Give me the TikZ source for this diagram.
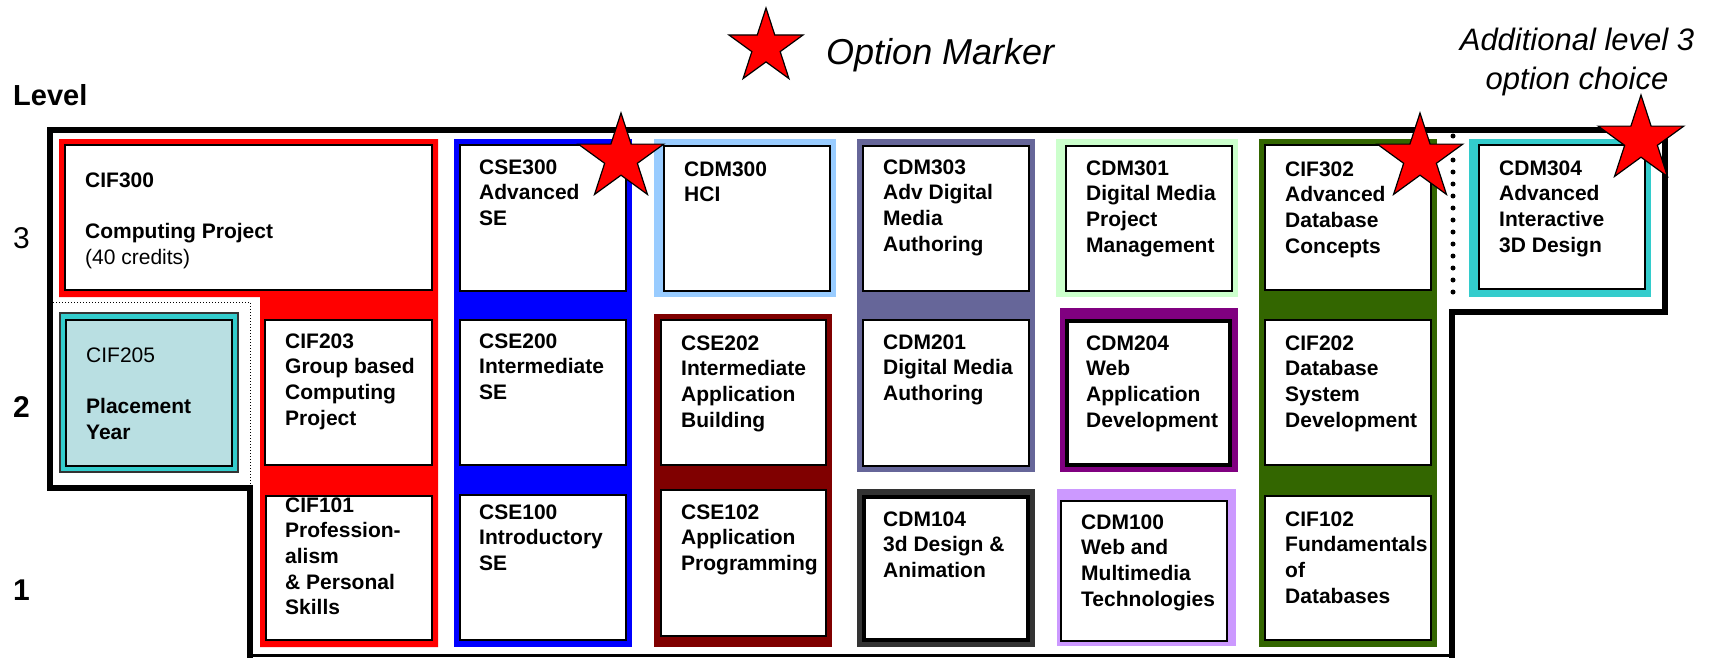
\documentclass[tikz,border=0pt]{standalone}
\usepackage{fontspec}
\setmainfont{Liberation Sans}
\usetikzlibrary{shapes.geometric,fit}
\definecolor{cred}{HTML}{FF0000}
\definecolor{cblue}{HTML}{0000FF}
\definecolor{clblue}{HTML}{99CCFF}
\definecolor{cdred}{HTML}{800000}
\definecolor{cslate}{HTML}{666699}
\definecolor{cdgray}{HTML}{333333}
\definecolor{clgreen}{HTML}{CCFFCC}
\definecolor{cpurple}{HTML}{800080}
\definecolor{clav}{HTML}{CC99FF}
\definecolor{cgreen}{HTML}{336600}
\definecolor{cteal}{HTML}{33CCCC}
\definecolor{cplace}{HTML}{B9DFE2}
\newcommand\mtext[1]{\begin{tabular}[t]{@{}l@{}}#1\end{tabular}}
\tikzset{
  modbox/.style={draw=black, line width=2pt, fill=white, inner sep=0pt},
  heavybox/.style={modbox, line width=3.5pt},
  modtext/.style={anchor=base west, inner sep=0pt, font=\fontsize{21}{25.7}\selectfont\bfseries},
  optstar/.style={star, star points=5, star point ratio=2.618, fill=red, draw=black, line width=1.2pt, inner sep=0pt, minimum size=90pt},
  lvl/.style={anchor=base west, inner sep=0pt, font=\fontsize{30}{36}\selectfont},
  itl/.style={inner sep=0pt, font=\fontsize{31}{39}\selectfont\itshape},
}
\begin{document}
\begin{tikzpicture}[x=1pt,y=-1pt]
\useasboundingbox (0,0) rectangle (1713,657);

% column backgrounds
\fill[cred] (59,139) -- (438,139) -- (438,647) -- (260,647) -- (260,297) -- (59,297) -- cycle;
\fill[cblue] (454,139) rectangle (632,647);
\fill[clblue] (654,139) rectangle (836,297);
\fill[cdred] (654,314) rectangle (832,647);
\fill[cslate] (857,139) rectangle (1035,472);
\fill[cdgray] (857,489) rectangle (1035,647);
\fill[clgreen] (1056,139) rectangle (1238,297);
\fill[cpurple] (1060,308) rectangle (1238,472);
\fill[clav] (1057,489) rectangle (1236,646);
\fill[cgreen] (1259,139) rectangle (1437,647);
\fill[cteal] (1469,139) rectangle (1651,297);

% outline
\draw[line width=6pt, line join=miter] (250,660) -- (250,488) -- (50,488) -- (50,130) -- (1665,130) -- (1665,312) -- (1452,312) -- (1452,660);
\draw[line width=2.5pt] (250,655.5) -- (1452,655.5);
\draw[line width=5pt, line cap=round, dash pattern=on 0pt off 12pt] (1453,136) -- (1453,302);
\draw[line width=1pt, dotted] (53,302) -- (250,302) -- (250,486);

% module boxes
\node[modbox, fit={(65,145) (432,290)}] (cif300) {};
\node[draw=cdgray, line width=1.5pt, fill=cteal, inner sep=0pt, fit={(60,313) (238,472)}] (cif205o) {};
\node[draw=black, line width=2pt, fill=cplace, inner sep=0pt, fit={(66,320) (232,466)}] (cif205) {};
\node[modbox, fit={(265,320) (432,465)}] (cif203) {};
\node[modbox, fit={(266,496) (432,640)}] (cif101) {};
\node[modbox, fit={(460,145) (626,291)}] (cse300) {};
\node[modbox, fit={(460,320) (626,465)}] (cse200) {};
\node[modbox, fit={(460,495) (626,640)}] (cse100) {};
\node[modbox, fit={(664,146) (830,291)}] (cdm300) {};
\node[modbox, fit={(661,320) (826,465)}] (cse202) {};
\node[modbox, fit={(661,490) (826,636)}] (cse102) {};
\node[modbox, fit={(863,146) (1029,291)}] (cdm303) {};
\node[modbox, fit={(863,320) (1029,466)}] (cdm201) {};
\node[heavybox, fit={(864,497) (1028,640)}] (cdm104) {};
\node[modbox, fit={(1066,146) (1232,291)}] (cdm301) {};
\node[heavybox, fit={(1067,321) (1230,465)}] (cdm204) {};
\node[modbox, fit={(1061,501) (1227,641)}] (cdm100) {};
\node[modbox, fit={(1265,145) (1431,290)}] (cif302) {};
\node[modbox, fit={(1265,320) (1431,465)}] (cif202) {};
\node[modbox, fit={(1265,496) (1431,640)}] (cif102) {};
\node[modbox, fit={(1479,145) (1645,289)}] (cdm304) {};

% module texts
\node[modtext] (tcif300) at (85,187) {\mtext{CIF300\\ \\Computing Project\\{\mdseries (40 credits)}}};
\node[modtext] (tcif205) at (86,362) {\mtext{{\mdseries CIF205}\\ \\Placement\\Year}};
\node[modtext] (tcif203) at (285,348) {\mtext{CIF203\\Group based\\Computing\\Project}};
\node[modtext] (tcif101) at (285,512) {\mtext{CIF101\\Profession-\\alism\\\& Personal\\Skills}};
\node[modtext] (tcse300) at (479,174) {\mtext{CSE300\\Advanced\\SE}};
\node[modtext] (tcse200) at (479,348) {\mtext{CSE200\\Intermediate\\SE}};
\node[modtext] (tcse100) at (479,519) {\mtext{CSE100\\Introductory\\SE}};
\node[modtext] (tcdm300) at (684,176) {\mtext{CDM300\\HCI}};
\node[modtext] (tcse202) at (681,350) {\mtext{CSE202\\Intermediate\\Application\\Building}};
\node[modtext] (tcse102) at (681,519) {\mtext{CSE102\\Application\\Programming}};
\node[modtext] (tcdm303) at (883,174) {\mtext{CDM303\\Adv Digital\\Media\\Authoring}};
\node[modtext] (tcdm201) at (883,349) {\mtext{CDM201\\Digital Media\\Authoring}};
\node[modtext] (tcdm104) at (883,526) {\mtext{CDM104\\3d Design \&\\Animation}};
\node[modtext] (tcdm301) at (1086,175) {\mtext{CDM301\\Digital Media\\Project\\Management}};
\node[modtext] (tcdm204) at (1086,350) {\mtext{CDM204\\Web\\Application\\Development}};
\node[modtext] (tcdm100) at (1081,529) {\mtext{CDM100\\Web and\\Multimedia\\Technologies}};
\node[modtext] (tcif302) at (1285,176) {\mtext{CIF302\\Advanced\\Database\\Concepts}};
\node[modtext] (tcif202) at (1285,350) {\mtext{CIF202\\Database\\System\\Development}};
\node[modtext] (tcif102) at (1285,526) {\mtext{CIF102\\Fundamentals\\of\\Databases}};
\node[modtext] (tcdm304) at (1499,175) {\mtext{CDM304\\Advanced\\Interactive\\3D Design}};

% level labels
\node[lvl, font=\fontsize{29}{35}\selectfont\bfseries] (level) at (13,105) {Level};
\node[lvl] (l3) at (13,248) {3};
\node[lvl, font=\fontsize{30}{36}\selectfont\bfseries] (l2) at (13,417) {2};
\node[lvl, font=\fontsize{30}{36}\selectfont\bfseries] (l1) at (13,600) {1};

% legend and notes
\node[optstar, minimum size=78pt] (legstar) at (766,47) {};
\node[itl, anchor=base west, font=\fontsize{36}{43}\selectfont\itshape] (legtext) at (826,64) {Option Marker};
\node[itl, anchor=base, align=center] (addtext) at (1577,89) {Additional level 3\\option choice};

% option stars
\node[optstar] (star1) at (621,158) {};
\node[optstar] (star2) at (1420,158) {};
\node[optstar] (star3) at (1641,140) {};
\end{tikzpicture}
\end{document}
